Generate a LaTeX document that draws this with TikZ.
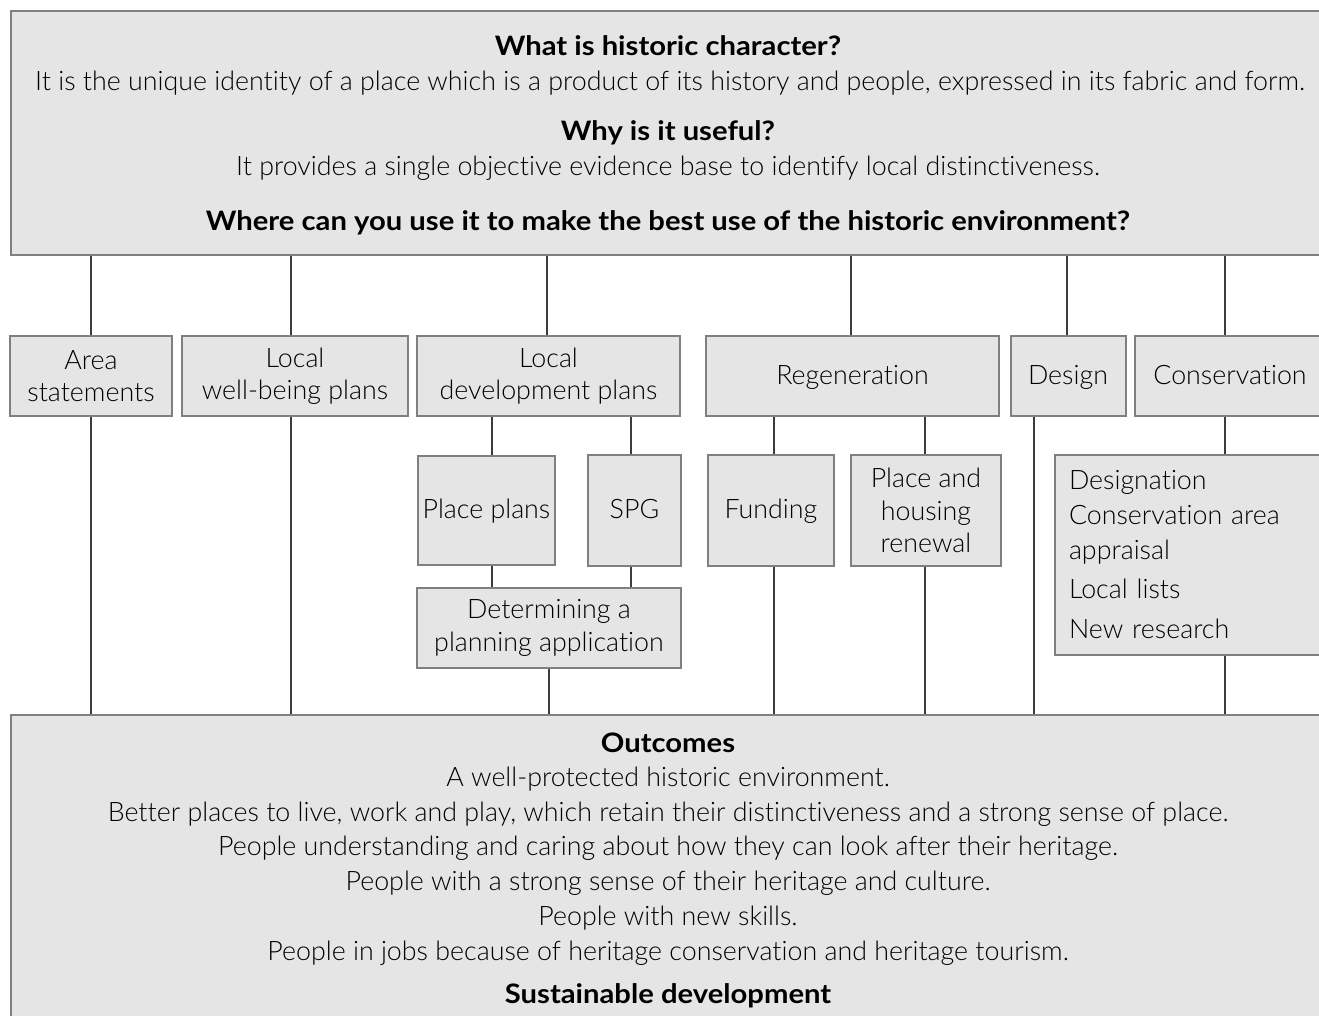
\documentclass[tikz,border=0pt]{standalone}
\usepackage{fontspec}
\setmainfont{Lato Light}[Ligatures=NoCommon, BoldFont=Lato Bold, BoldFeatures={FakeStretch=1.09}]
\definecolor{boxfill}{HTML}{E5E5E5}
\definecolor{boxline}{HTML}{808080}
\definecolor{linkline}{HTML}{3C3C3C}
\newcommand\fs{\fontsize{26.8}{32.5}\selectfont}
\begin{document}
\begin{tikzpicture}[x=1pt,y=-1pt,
  box/.style={draw=boxline, line width=2pt, fill=boxfill, inner sep=0pt, align=center, font=\fs},
  one/.style={text height=16pt, text depth=0pt},
  txt/.style={anchor=base, inner sep=0pt, font=\fs},
  link/.style={draw=linkline, line width=1.2pt}]
\useasboundingbox (0,0) rectangle (1319,1015);
\clip (0,0) rectangle (1319,1015);
% top box
\node[box, minimum width=1340pt, minimum height=244pt] (top) at (681,133) {};
\node[txt] (t1) at (668,55) {\bfseries What is historic character?};
\node[txt] (t2) at (670,90) {It is the unique identity of a place which is a product of its history and people, expressed in its fabric and form.};
\node[txt] (t3) at (668,140) {\bfseries Why is it useful?};
\node[txt] (t4) at (668,175) {It provides a single objective evidence base to identify local distinctiveness.};
\node[txt] (t5) at (668,230) {\bfseries Where can you use it to make the best use of the historic environment?};
% outcomes box
\node[box, minimum width=1340pt, minimum height=340pt] (out) at (681,885) {};
\node[txt] (o1) at (668,752) {\bfseries Outcomes};
\node[txt] (o2) at (668,786) {A well-protected historic environment.};
\node[txt] (o3) at (668,821) {Better places to live, work and play, which retain their distinctiveness and a strong sense of place.};
\node[txt] (o4) at (668,855) {People understanding and caring about how they can look after their heritage.};
\node[txt] (o5) at (668,890) {People with a strong sense of their heritage and culture.};
\node[txt] (o6) at (668,925) {People with new skills.};
\node[txt] (o7) at (668,960) {People in jobs because of heritage conservation and heritage tourism.};
\node[txt] (o8) at (668,1003) {\bfseries Sustainable development};
% row 1
\node[box, minimum width=162pt, minimum height=80pt] (area) at (91,376) {Area\\statements};
\node[box, minimum width=226pt, minimum height=80pt] (wb) at (295,376) {Local\\well-being plans};
\node[box, minimum width=263pt, minimum height=80pt] (ldp) at (548.5,376) {Local\\development plans};
\node[box, one, minimum width=293pt, minimum height=80pt] (regen) at (852.5,376) {Regeneration};
\node[box, one, minimum width=115pt, minimum height=80pt] (design) at (1068,376) {Design};
\node[box, one, minimum width=190pt, minimum height=80pt] (cons) at (1230,376) {Conservation};
% row 2
\node[box, one, minimum width=137pt, minimum height=109pt] (place) at (486.5,510) {Place plans};
\node[box, one, minimum width=93pt, minimum height=111pt] (spg) at (634.5,510.5) {SPG};
\node[box, minimum width=264pt, minimum height=80pt] (det) at (549,628) {Determining a\\planning application};
\node[box, one, minimum width=126pt, minimum height=111pt] (fund) at (771,510.5) {Funding};
\node[box, minimum width=150pt, minimum height=111pt] (phr) at (926,510.5) {Place and\\housing\\renewal};
\node[box, minimum height=200pt, text width=312pt, inner xsep=14pt, align=left,
      font=\fontsize{26.8}{35}\selectfont] (consub) at (1225,555)
  {Designation\\Conservation area\\appraisal\\[4pt]Local lists\\[5pt]New research};
% connectors from top box
\draw[link] (area.north) -- (area.north |- top.south);
\draw[link] ([xshift=-4pt]wb.north) -- ([xshift=-4pt]wb.north |- top.south);
\draw[link] ([xshift=-1.5pt]ldp.north) -- ([xshift=-1.5pt]ldp.north |- top.south);
\draw[link] ([xshift=-1.5pt]regen.north) -- ([xshift=-1.5pt]regen.north |- top.south);
\draw[link] ([xshift=-1pt]design.north) -- ([xshift=-1pt]design.north |- top.south);
\draw[link] ([xshift=-5pt]cons.north) -- ([xshift=-5pt]cons.north |- top.south);
% local development plans
\draw[link] ([xshift=5.5pt]place.north) -- ([xshift=5.5pt]place.north |- ldp.south);
\draw[link] ([xshift=-3.5pt]spg.north) -- ([xshift=-3.5pt]spg.north |- ldp.south);
\draw[link] ([xshift=5.5pt]place.south) -- ([xshift=5.5pt]place.south |- det.north);
\draw[link] ([xshift=-3.5pt]spg.south) -- ([xshift=-3.5pt]spg.south |- det.north);
\draw[link] (det.south) -- (det.south |- out.north);
% regeneration
\draw[link] ([xshift=3pt]fund.north) -- ([xshift=3pt]fund.north |- regen.south);
\draw[link] ([xshift=-1pt]phr.north) -- ([xshift=-1pt]phr.north |- regen.south);
\draw[link] ([xshift=3pt]fund.south) -- ([xshift=3pt]fund.south |- out.north);
\draw[link] ([xshift=-1pt]phr.south) -- ([xshift=-1pt]phr.south |- out.north);
% conservation
\draw[link] (consub.north) -- (consub.north |- cons.south);
\draw[link] (consub.south) -- (consub.south |- out.north);
% straight down
\draw[link] (area.south) -- (area.south |- out.north);
\draw[link] ([xshift=-4pt]wb.south) -- ([xshift=-4pt]wb.south |- out.north);
\draw[link] ([xshift=-34pt]design.south) -- ([xshift=-34pt]design.south |- out.north);
\end{tikzpicture}
\end{document}
